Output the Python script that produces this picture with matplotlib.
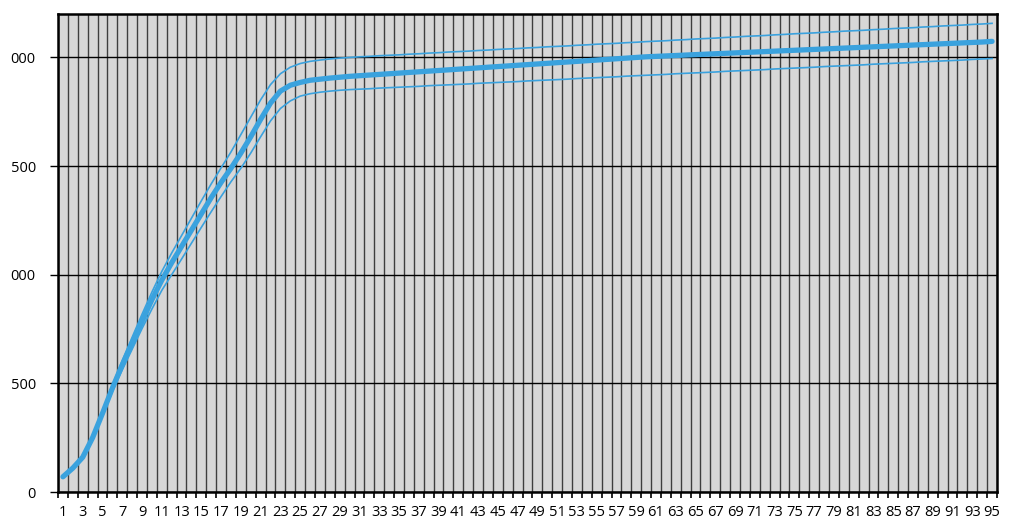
import numpy as np
import matplotlib
matplotlib.use("Agg")
import matplotlib.pyplot as plt
from matplotlib.ticker import FixedLocator, FixedFormatter

# categories 1..95
days = list(range(1, 96))

# thick middle curve
mean_vals = [70, 110, 160, 250, 362, 478, 585, 685, 785, 885,
             975, 1055, 1130, 1205, 1280, 1355, 1425, 1490, 1560, 1635,
             1715, 1790, 1845, 1872, 1885, 1895, 1900, 1905, 1909, 1913,
             1916, 1919, 1922, 1925, 1928, 1931, 1934, 1937, 1940, 1943,
             1946, 1949, 1952, 1955, 1958, 1961, 1964, 1967, 1970, 1973,
             1976, 1979, 1982, 1985, 1988, 1991, 1994, 1997, 2000, 2003,
             2005, 2007, 2009, 2011, 2013, 2015, 2017, 2019, 2021, 2023,
             2025, 2027, 2029, 2031, 2033, 2035, 2037, 2039, 2041, 2043,
             2045, 2047, 2049, 2051, 2053, 2055, 2057, 2059, 2061, 2063,
             2065, 2067, 2069, 2071, 2074]

# thin upper curve
upper_vals = [72, 114, 167, 258, 372, 492, 605, 712, 818, 920,
              1015, 1100, 1180, 1260, 1340, 1418, 1492, 1565, 1645, 1725,
              1805, 1875, 1925, 1955, 1972, 1982, 1988, 1993, 1997, 2000,
              2003, 2005, 2008, 2010, 2012, 2015, 2017, 2020, 2022, 2025,
              2027, 2029, 2032, 2034, 2037, 2039, 2041, 2044, 2046, 2049,
              2051, 2053, 2056, 2058, 2061, 2063, 2065, 2068, 2070, 2073,
              2075, 2077, 2080, 2082, 2085, 2087, 2089, 2092, 2094, 2097,
              2099, 2101, 2104, 2106, 2109, 2111, 2113, 2116, 2118, 2121,
              2123, 2125, 2128, 2130, 2133, 2135, 2137, 2140, 2142, 2145,
              2147, 2149, 2152, 2154, 2157]

# thin lower curve
lower_vals = [68, 107, 156, 243, 352, 462, 562, 657, 752, 842,
              928, 1000, 1072, 1145, 1218, 1290, 1360, 1428, 1490, 1560,
              1635, 1708, 1765, 1800, 1822, 1833, 1840, 1845, 1849, 1852,
              1854, 1856, 1859, 1861, 1863, 1865, 1867, 1870, 1872, 1874,
              1876, 1878, 1881, 1883, 1885, 1887, 1889, 1892, 1894, 1896,
              1898, 1900, 1903, 1905, 1907, 1909, 1911, 1914, 1916, 1918,
              1920, 1922, 1925, 1927, 1929, 1931, 1933, 1936, 1938, 1940,
              1942, 1944, 1947, 1949, 1951, 1953, 1955, 1958, 1960, 1962,
              1964, 1966, 1969, 1971, 1973, 1975, 1977, 1980, 1982, 1984,
              1986, 1988, 1991, 1993, 1995]

y_ticks = [0, 500, 1000, 1500, 2000]
y_labels = ["0", "500", "000", "500", "000"]  # left part is cut off in the source

plt.rcParams['font.family'] = ['Open Sans', 'DejaVu Sans']

fig = plt.figure(figsize=(10.24, 5.29), dpi=100)
ax = fig.add_axes([58 / 1024, 37 / 529, 939 / 1024, 478 / 529])
ax.set_facecolor("#d7d7d7")

blue = "#3aa2de"
ax.plot(days, upper_vals, color=blue, lw=1.2, zorder=3)
ax.plot(days, lower_vals, color=blue, lw=1.2, zorder=3)
ax.plot(days, mean_vals, color=blue, lw=3.8, solid_capstyle="round", zorder=4)

ax.set_xlim(0.5, 95.5)
ax.set_ylim(0, 2200)

# category boundaries -> minor ticks + vertical grid
ax.xaxis.set_minor_locator(FixedLocator(np.arange(0.5, 96, 1)))
ax.set_xticks(days[::2])
ax.set_xticklabels([str(d) for d in days[::2]])
ax.tick_params(axis="x", which="major", length=0, pad=9, labelsize=10.5)
ax.tick_params(axis="x", which="minor", length=4, width=1.2, color="black")
ax.grid(True, axis="x", which="minor", color="#3e3e3e", lw=1.0, zorder=1)

ax.yaxis.set_major_locator(FixedLocator(y_ticks))
ax.yaxis.set_major_formatter(FixedFormatter(y_labels))
ax.tick_params(axis="y", length=6, width=1, pad=10, labelsize=10.5)
ax.grid(True, axis="y", which="major", color="black", lw=1.0, zorder=1)
ax.set_axisbelow(True)

for s in ax.spines.values():
    s.set_linewidth(1.8)
    s.set_color("black")

fig.savefig("out.png", dpi=100)
